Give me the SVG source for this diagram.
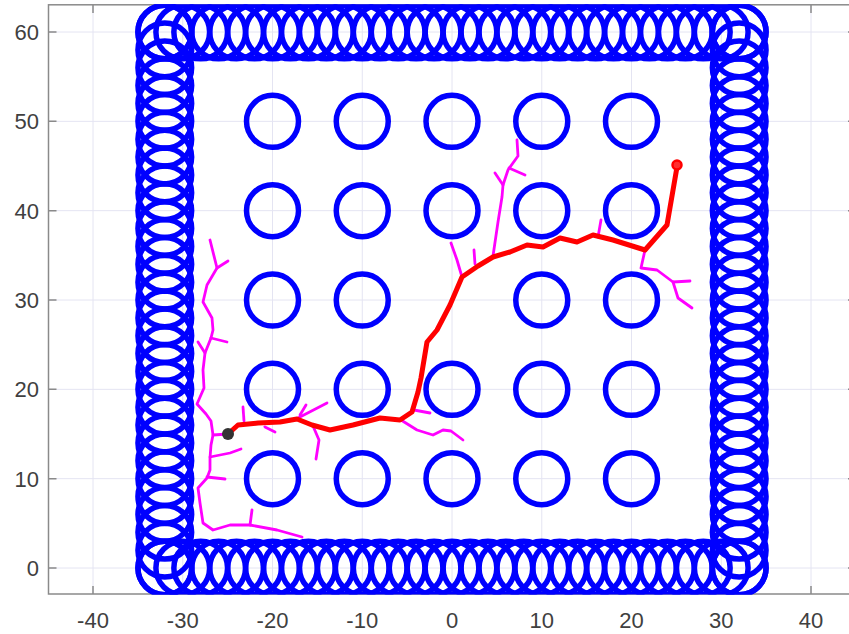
<svg xmlns="http://www.w3.org/2000/svg" xmlns:xlink="http://www.w3.org/1999/xlink" width="849" height="634" viewBox="0 0 849 634">
<style>
.grid{stroke:#e4e4f2;stroke-width:1;fill:none}
.frame{stroke:#8a8a8a;stroke-width:1.5;fill:none}
.tick{stroke:#8a8a8a;stroke-width:1.5}
.lbl{font-family:"Liberation Sans",Arial,sans-serif;font-size:22px;fill:#404040}
.obs{fill:none;stroke:#0000ff;stroke-width:5.5}
.bnd{fill:none;stroke:#0000ff;stroke-width:5.5}
.tree{fill:none;stroke:#ff00ff;stroke-width:2.8;stroke-linejoin:round;stroke-linecap:round}
.path{fill:none;stroke:#ff0000;stroke-width:5;stroke-linejoin:round;stroke-linecap:round}
</style>
<defs>
<clipPath id="ax"><rect x="48.5" y="4.2" width="808" height="590.3"/></clipPath>
<circle id="b" r="26.85"/>
<g id="row">
<use href="#b" x="164.8"/><use href="#b" x="182.75"/><use href="#b" x="200.7"/><use href="#b" x="218.65"/><use href="#b" x="236.6"/><use href="#b" x="254.55"/><use href="#b" x="272.5"/><use href="#b" x="290.45"/><use href="#b" x="308.4"/><use href="#b" x="326.35"/><use href="#b" x="344.3"/><use href="#b" x="362.25"/><use href="#b" x="380.2"/><use href="#b" x="398.15"/><use href="#b" x="416.1"/><use href="#b" x="434.05"/><use href="#b" x="452"/><use href="#b" x="469.95"/><use href="#b" x="487.9"/><use href="#b" x="505.85"/><use href="#b" x="523.8"/><use href="#b" x="541.75"/><use href="#b" x="559.7"/><use href="#b" x="577.65"/><use href="#b" x="595.6"/><use href="#b" x="613.55"/><use href="#b" x="631.5"/><use href="#b" x="649.45"/><use href="#b" x="667.4"/><use href="#b" x="685.35"/><use href="#b" x="703.3"/><use href="#b" x="721.25"/><use href="#b" x="739.2"/>
</g>
<g id="col">
<use href="#b" y="568"/><use href="#b" y="550.13"/><use href="#b" y="532.27"/><use href="#b" y="514.4"/><use href="#b" y="496.54"/><use href="#b" y="478.67"/><use href="#b" y="460.8"/><use href="#b" y="442.94"/><use href="#b" y="425.07"/><use href="#b" y="407.21"/><use href="#b" y="389.34"/><use href="#b" y="371.47"/><use href="#b" y="353.61"/><use href="#b" y="335.74"/><use href="#b" y="317.88"/><use href="#b" y="300.01"/><use href="#b" y="282.14"/><use href="#b" y="264.28"/><use href="#b" y="246.41"/><use href="#b" y="228.55"/><use href="#b" y="210.68"/><use href="#b" y="192.81"/><use href="#b" y="174.95"/><use href="#b" y="157.08"/><use href="#b" y="139.22"/><use href="#b" y="121.35"/><use href="#b" y="103.48"/><use href="#b" y="85.62"/><use href="#b" y="67.75"/><use href="#b" y="49.89"/><use href="#b" y="32.02"/>
</g>
</defs>
<rect width="849" height="634" fill="#ffffff"/>
<g id="grid" class="grid">
<path d="M93,5V594M182.75,5V594M272.5,5V594M362.25,5V594M452,5V594M541.75,5V594M631.5,5V594M721.25,5V594M811,5V594"/>
<path d="M48.5,568H856M48.5,478.67H856M48.5,389.33H856M48.5,300H856M48.5,210.67H856M48.5,121.33H856M48.5,32H856"/>
</g>
<g id="axes">
<rect class="frame" x="48.5" y="4.8" width="808" height="589.2"/>
<path class="tick" d="M93,594v-8M182.75,594v-8M272.5,594v-8M362.25,594v-8M452,594v-8M541.75,594v-8M631.5,594v-8M721.25,594v-8M811,594v-8M93,5v8M182.75,5v8M272.5,5v8M362.25,5v8M452,5v8M541.75,5v8M631.5,5v8M721.25,5v8M811,5v8"/>
<path class="tick" d="M48.5,568h8M48.5,478.67h8M48.5,389.33h8M48.5,300h8M48.5,210.67h8M48.5,121.33h8M48.5,32h8M856,568h-8M856,478.67h-8M856,389.33h-8M856,300h-8M856,210.67h-8M856,121.33h-8M856,32h-8"/>
<g class="lbl" text-anchor="middle">
<text x="93" y="628">-40</text><text x="182.75" y="628">-30</text><text x="272.5" y="628">-20</text><text x="362.25" y="628">-10</text><text x="452" y="628">0</text><text x="541.75" y="628">10</text><text x="631.5" y="628">20</text><text x="721.25" y="628">30</text><text x="811" y="628">40</text>
</g>
<g class="lbl" text-anchor="end">
<text x="39" y="576">0</text><text x="39" y="486.67">10</text><text x="39" y="397.33">20</text><text x="39" y="308">30</text><text x="39" y="218.67">40</text><text x="39" y="129.33">50</text><text x="39" y="40">60</text>
</g>
</g>
<g clip-path="url(#ax)">
<g id="boundary" class="bnd">
<use href="#row" y="32"/>
<use href="#row" y="568"/>
<use href="#col" x="164.8"/>
<use href="#col" x="739.2"/>
</g>
<g id="obstacles" class="obs">
<circle cx="272.5" cy="121.33" r="26"/><circle cx="362.25" cy="121.33" r="26"/><circle cx="452" cy="121.33" r="26"/><circle cx="541.75" cy="121.33" r="26"/><circle cx="631.5" cy="121.33" r="26"/>
<circle cx="272.5" cy="210.67" r="26"/><circle cx="362.25" cy="210.67" r="26"/><circle cx="452" cy="210.67" r="26"/><circle cx="541.75" cy="210.67" r="26"/><circle cx="631.5" cy="210.67" r="26"/>
<circle cx="272.5" cy="300" r="26"/><circle cx="362.25" cy="300" r="26"/><circle cx="541.75" cy="300" r="26"/><circle cx="631.5" cy="300" r="26"/>
<circle cx="272.5" cy="389.33" r="26"/><circle cx="362.25" cy="389.33" r="26"/><circle cx="452" cy="389.33" r="26"/><circle cx="541.75" cy="389.33" r="26"/><circle cx="631.5" cy="389.33" r="26"/>
<circle cx="272.5" cy="478.67" r="26"/><circle cx="362.25" cy="478.67" r="26"/><circle cx="452" cy="478.67" r="26"/><circle cx="541.75" cy="478.67" r="26"/><circle cx="631.5" cy="478.67" r="26"/>
</g>
<g id="tree" class="tree">
<polyline points="210,240 217,268 207,285 203,302 212,318 213,330 211,338 205,353 203,370 204,388 197,404 206,414 211,421 213,435 211,445 210,458 210,470 207,478 198,488 200,503 203,523 213,530 230,525 250,525 277,530 302,537"/>
<polyline points="217,268 228,261"/>
<polyline points="211,338 227,342"/>
<polyline points="198,342 205,353"/>
<polyline points="213,435 228,434"/>
<polyline points="210,457 230,453 241,449"/>
<polyline points="207,477 225,479"/>
<polyline points="250,525 252,510"/>
<polyline points="243,407 244,421"/>
<polyline points="265,427 275,432"/>
<polyline points="298,418 327,403"/>
<polyline points="300,415 306,405"/>
<polyline points="313,426 319,440 316,459"/>
<polyline points="401,420 417,430 433,435 443,430 451,431 463,440"/>
<polyline points="414,410 430,413"/>
<polyline points="462,277 457,260 451,243"/>
<polyline points="475,264 474,250"/>
<polyline points="493,256 498,222 502,197 503,185 508,170 518,156 517,140"/>
<polyline points="503,185 495,173"/>
<polyline points="509,168 525,175"/>
<polyline points="598,237 601,220"/>
<polyline points="645,250 641,268 657,270 673,282 690,281"/>
<polyline points="673,282 678,298 692,308"/>
</g>
<g id="route">
<polyline class="path" points="228,434 238,425 258,423 280,422 297,419 312,425 330,430 353,425 380,418 400,420 412,412 418,392 421,378 427,342 437,330 450,305 462,277 478,266 493,257 510,252 527,245 543,247 560,238 577,242 593,235 613,240 645,250 667,225 677,167"/>
<circle id="start" cx="228" cy="434" r="6" fill="#333333"/>
<circle id="goal" cx="677" cy="165" r="4.5" fill="#ff3030" stroke="#ff0000" stroke-width="2.5"/>
</g>
</g>
</svg>
